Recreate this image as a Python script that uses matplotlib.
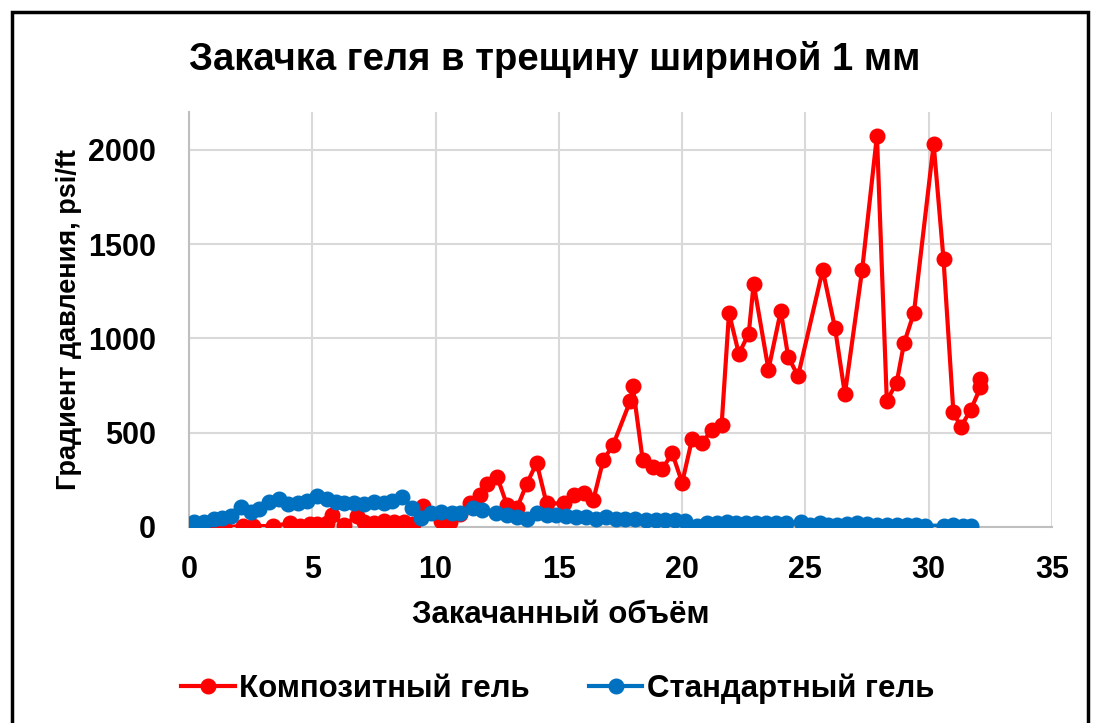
import matplotlib.pyplot as plt
from matplotlib.patches import Rectangle

plt.rcParams["font.family"] = ["Liberation Sans", "DejaVu Sans"]
plt.rcParams["font.weight"] = "bold"
plt.rcParams["axes.labelweight"] = "bold"

title = "Закачка геля в трещину шириной 1 мм"
x_label = "Закачанный объём"
y_label = "Градиент давления, psi/ft"
series_names = ["Композитный гель", "Стандартный гель"]

# composite gel
comp_x = [0.3, 1.0, 1.4, 2.2, 2.6, 3.4, 4.1, 4.5, 4.9, 5.2, 5.6, 5.8, 6.3, 6.8,
          7.1, 7.5, 7.9, 8.3, 8.7, 9.1, 9.5, 10.2, 10.6, 11.0, 11.4, 11.8, 12.1,
          12.5, 12.9, 13.3, 13.7, 14.1, 14.5, 15.2, 15.6, 16.0, 16.4, 16.8, 17.2,
          17.9, 18.0, 18.4, 18.8, 19.2, 19.6, 20.0, 20.4, 20.8, 21.2, 21.6, 21.9,
          22.3, 22.7, 22.9, 23.5, 24.0, 24.3, 24.7, 25.7, 26.2, 26.6, 27.3, 27.9,
          28.3, 28.7, 29.0, 29.4, 30.2, 30.6, 31.0, 31.3, 31.7, 32.1, 32.1]
comp_y = [15, 0, 0, 5, 5, 5, 20, 5, 15, 15, 20, 65, 10, 60,
          25, 20, 30, 25, 25, 15, 110, 30, 25, 70, 125, 170, 230,
          265, 115, 100, 230, 340, 125, 125, 170, 180, 145, 355, 435,
          670, 745, 355, 320, 310, 390, 235, 465, 445, 515, 540, 1135,
          918, 1025, 1290, 835, 1145, 903, 800, 1363, 1055, 705, 1363, 2075,
          670, 765, 975, 1135, 2030, 1420, 610, 530, 620, 740, 785]

# standard gel
std_x = [0.2, 0.6, 1.0, 1.35, 1.7, 2.1, 2.5, 2.85, 3.25, 3.65, 4.0, 4.4, 4.8,
         5.2, 5.6, 5.95, 6.3, 6.7, 7.1, 7.5, 7.9, 8.25, 8.65, 9.05, 9.4, 9.8,
         10.2, 10.65, 11.0, 11.5, 11.9, 12.45, 12.9, 13.3, 13.7, 14.1, 14.5,
         14.9, 15.3, 15.7, 16.1, 16.5, 16.9, 17.3, 17.7, 18.1, 18.55, 18.95,
         19.3, 19.7, 20.1, 20.6, 21.0, 21.4, 21.8, 22.2, 22.6, 23.0, 23.4, 23.8,
         24.2, 24.8, 25.2, 25.6, 25.9, 26.3, 26.7, 27.1, 27.5, 27.9, 28.3, 28.7,
         29.1, 29.5, 29.85, 30.6, 31.0, 31.4, 31.7]
std_y = [25, 25, 40, 50, 60, 105, 80, 95, 135, 148, 122, 125, 140,
         165, 148, 135, 125, 125, 120, 135, 125, 138, 158, 100, 48, 72,
         80, 72, 72, 100, 90, 72, 65, 55, 45, 72, 65,
         65, 58, 55, 52, 45, 55, 45, 42, 40, 38, 38,
         37, 37, 33, 7, 20, 22, 27, 22, 20, 20, 20, 20,
         20, 27, 10, 20, 10, 10, 15, 20, 15, 10, 10, 10,
         10, 10, 7, 7, 10, 7, 7]

x_ticks = [0, 5, 10, 15, 20, 25, 30, 35]
y_ticks = [0, 500, 1000, 1500, 2000]

fig = plt.figure(figsize=(10.94, 7.23), dpi=100)
ax = fig.add_axes([0.1728, 0.2711, 0.7888, 0.5739])

ax.plot(comp_x, comp_y, color="#FF0000", lw=3, marker="o", ms=10.5,
        label=series_names[0], zorder=3)
ax.plot(std_x, std_y, color="#0070C0", lw=3, marker="o", ms=10.5,
        label=series_names[1], zorder=4)

ax.set_xlim(0, 35)
ax.set_ylim(0, 2200)
ax.set_xticks(x_ticks)
ax.set_yticks(y_ticks)
ax.tick_params(length=0, labelsize=22)
ax.tick_params(axis="x", pad=20)
ax.tick_params(axis="y", pad=24)
ax.grid(True, color="#d9d9d9", lw=1.5)
ax.set_axisbelow(True)
for side in ["top", "right"]:
    ax.spines[side].set_visible(False)
for side in ["left", "bottom"]:
    ax.spines[side].set_color("#bfbfbf")
    ax.spines[side].set_linewidth(1.5)

ax.set_xlabel(x_label, fontsize=22.5)
ax.xaxis.set_label_coords(0.431, -0.175)
ax.set_ylabel(y_label, fontsize=19.5, labelpad=4)
fig.text(0.507, 0.918, title, fontsize=27.5, ha="center", va="center")

fig.legend(loc="center", bbox_to_anchor=(0.51, 0.048), ncol=2, frameon=False,
           fontsize=22.5, handlelength=1.7, handletextpad=0.15, columnspacing=1.9)

fig.add_artist(Rectangle((12 / 1094, -0.02), 1076 / 1094, 1 - 12 / 723 + 0.02,
                         transform=fig.transFigure, fill=False, ec="black",
                         lw=2.5))

fig.savefig("out.png", dpi=100)
